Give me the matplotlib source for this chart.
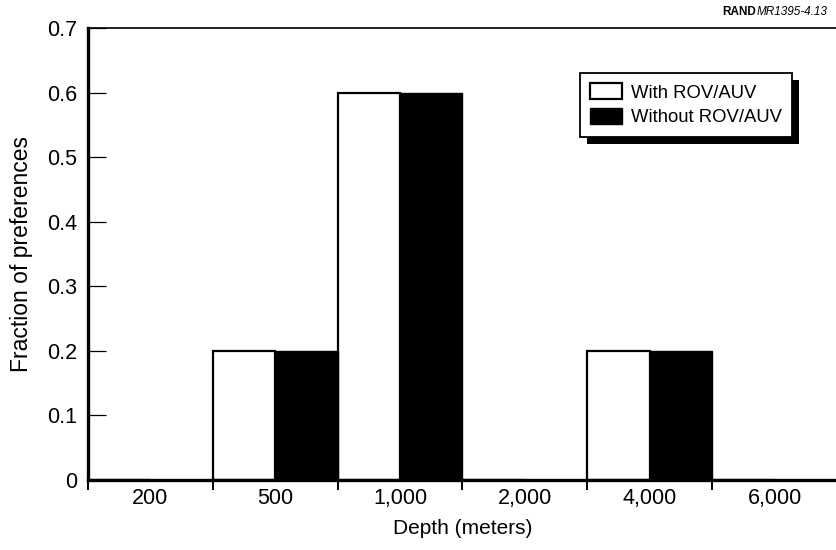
import numpy as np
import matplotlib
matplotlib.use("Agg")
import matplotlib.pyplot as plt
from matplotlib.patches import Rectangle

plt.rcParams['font.family'] = ['Liberation Sans', 'DejaVu Sans']

# data
depths = ["200", "500", "1,000", "2,000", "4,000", "6,000"]
with_rov = [0.0, 0.2, 0.6, 0.0, 0.2, 0.0]
without_rov = [0.0, 0.2, 0.6, 0.0, 0.2, 0.0]
y_ticks = [0, 0.1, 0.2, 0.3, 0.4, 0.5, 0.6, 0.7]
y_tick_labels = ["0", "0.1", "0.2", "0.3", "0.4", "0.5", "0.6", "0.7"]

W, H = 837, 550
fig = plt.figure(figsize=(W / 100, H / 100), dpi=100)
ax = fig.add_axes([88 / W, 1 - 480 / H, 1 - 88 / W, (480 - 28) / H])

x = np.arange(len(depths))
ax.bar(x, with_rov, width=0.5, align='edge', color='white',
       edgecolor='black', linewidth=1.6, label='With ROV/AUV')
ax.bar(x + 0.5, without_rov, width=0.5, align='edge', color='black',
       edgecolor='black', linewidth=1.0, label='Without ROV/AUV')

ax.set_xlim(0, len(depths))
ax.set_ylim(0, 0.7)

# ticks at category edges, labels at centres
ax.set_xticks(np.arange(len(depths) + 1))
ax.set_xticklabels([])
ax.set_xticks(x + 0.5, minor=True)
ax.set_xticklabels(depths, minor=True, fontsize=15.5)
ax.tick_params(axis='x', which='major', direction='out', length=7.5, width=1.4)
ax.tick_params(axis='x', which='minor', length=0, pad=6)

ax.set_yticks(y_ticks)
ax.set_yticklabels(y_tick_labels, fontsize=15.5)
ax.tick_params(axis='y', direction='in', length=13, width=0.9, pad=8)

ax.spines['right'].set_visible(False)
ax.spines['left'].set_linewidth(2.4)
ax.spines['bottom'].set_linewidth(2.4)
ax.spines['top'].set_linewidth(1.2)

ax.set_xlabel("Depth (meters)", fontsize=15, labelpad=7)
ax.set_ylabel("Fraction of preferences", fontsize=16.5, labelpad=10)

leg = ax.legend(loc='upper right', bbox_to_anchor=(0.94, 0.90),
                borderaxespad=0, fancybox=False, framealpha=1,
                edgecolor='black', fontsize=13.3, handlelength=1.7,
                handleheight=0.95, handletextpad=0.5, borderpad=0.55,
                labelspacing=0.35)
leg.get_frame().set_linewidth(1.3)
leg.set_zorder(6)

# hard drop shadow to the right and below the legend box
fig.canvas.draw()
bb = leg.get_window_extent().transformed(fig.transFigure.inverted())
shadow = Rectangle((bb.x0 + 7 / W, bb.y0 - 7 / H), bb.width, bb.height,
                   transform=fig.transFigure, facecolor='black',
                   edgecolor='none', zorder=5, clip_on=False)
ax.add_patch(shadow)

fig.text(722 / W, 1 - 12 / H, "RAND", fontsize=8.5, fontweight='bold',
         va='center', ha='left')
fig.text(757 / W, 1 - 12 / H, "MR1395-4.13", fontsize=8.5, style='italic',
         va='center', ha='left')

fig.savefig("out.png", dpi=100)
